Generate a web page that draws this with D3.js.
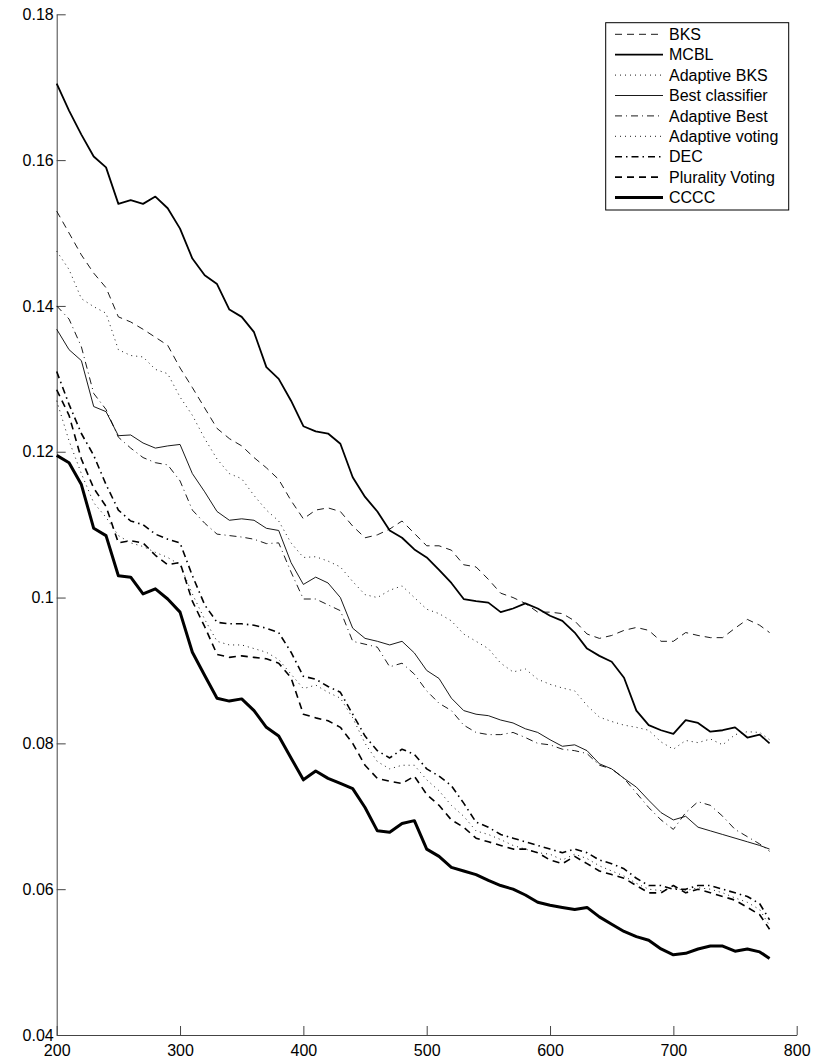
<!DOCTYPE html>
<html><head><meta charset="utf-8">
<script src="https://cdn.jsdelivr.net/npm/d3@7"></script>
<style>body{margin:0;background:#fff}text{font-family:"Liberation Sans",Arial,sans-serif}</style>
</head><body><svg id="c" width="816" height="1064"></svg>
<script>
const xValues = [200,210,220,230,240,250,260,270,280,290,300,310,320,330,340,350,360,370,380,390,400,410,420,430,440,450,460,470,480,490,500,510,520,530,540,550,560,570,580,590,600,610,620,630,640,650,660,670,680,690,700,710,720,730,740,750,760,770,778];
const bks = [0.1530,0.1500,0.1470,0.1445,0.1425,0.1385,0.1378,0.1368,0.1357,0.1346,0.1315,0.1288,0.1260,0.1232,0.1218,0.1208,0.1192,0.1178,0.1162,0.1133,0.1108,0.1120,0.1123,0.1118,0.1098,0.1082,0.1086,0.1094,0.1105,0.1088,0.1071,0.1071,0.1065,0.1045,0.1042,0.1025,0.1006,0.1000,0.0992,0.0980,0.0980,0.0978,0.0968,0.0950,0.0944,0.0948,0.0955,0.0959,0.0955,0.0940,0.0940,0.0952,0.0948,0.0945,0.0945,0.0958,0.0970,0.0962,0.0952];
const mcbl = [0.1705,0.1668,0.1635,0.1605,0.1590,0.1540,0.1545,0.1540,0.1550,0.1534,0.1506,0.1465,0.1442,0.1430,0.1395,0.1385,0.1364,0.1316,0.1300,0.1270,0.1235,0.1228,0.1225,0.1211,0.1165,0.1138,0.1118,0.1092,0.1082,0.1066,0.1055,0.1038,0.1020,0.0998,0.0995,0.0993,0.0980,0.0985,0.0992,0.0985,0.0975,0.0968,0.0952,0.0930,0.0920,0.0912,0.0890,0.0845,0.0825,0.0818,0.0813,0.0832,0.0828,0.0816,0.0818,0.0822,0.0808,0.0812,0.0800];
const adaptiveBks = [0.1475,0.1450,0.1410,0.1399,0.1390,0.1340,0.1332,0.1330,0.1313,0.1307,0.1275,0.1250,0.1218,0.1190,0.1170,0.1163,0.1140,0.1120,0.1105,0.1075,0.1055,0.1056,0.1050,0.1042,0.1022,0.1004,0.1000,0.1010,0.1016,0.1000,0.0984,0.0978,0.0968,0.0950,0.0940,0.0930,0.0910,0.0898,0.0902,0.0888,0.0881,0.0876,0.0872,0.0852,0.0836,0.0830,0.0825,0.0822,0.0818,0.0802,0.0792,0.0804,0.0801,0.0806,0.0798,0.0812,0.0816,0.0815,0.0805];
const bestClassifier = [0.1368,0.1340,0.1325,0.1262,0.1255,0.1222,0.1223,0.1212,0.1205,0.1208,0.1210,0.1170,0.1145,0.1118,0.1106,0.1108,0.1106,0.1095,0.1092,0.1048,0.1018,0.1028,0.1020,0.1000,0.0958,0.0944,0.0940,0.0935,0.0940,0.0924,0.0900,0.0889,0.0862,0.0845,0.0840,0.0838,0.0832,0.0828,0.0820,0.0815,0.0805,0.0796,0.0798,0.0790,0.0772,0.0765,0.0752,0.0740,0.0722,0.0705,0.0695,0.0700,0.0685,0.0680,0.0675,0.0670,0.0665,0.0660,0.0655];
const adaptiveBest = [0.1400,0.1382,0.1344,0.1280,0.1258,0.1220,0.1205,0.1192,0.1185,0.1182,0.1160,0.1120,0.1102,0.1087,0.1085,0.1083,0.1080,0.1074,0.1075,0.1035,0.0998,0.0998,0.0990,0.0982,0.0940,0.0936,0.0932,0.0905,0.0910,0.0895,0.0872,0.0855,0.0845,0.0825,0.0815,0.0812,0.0812,0.0815,0.0808,0.0800,0.0798,0.0792,0.0790,0.0786,0.0770,0.0765,0.0752,0.0732,0.0712,0.0695,0.0682,0.0705,0.0720,0.0715,0.0700,0.0682,0.0672,0.0662,0.0652];
const adaptiveVoting = [0.1270,0.1215,0.1170,0.1130,0.1110,0.1085,0.1075,0.1070,0.1062,0.1055,0.1045,0.1005,0.0970,0.0940,0.0935,0.0935,0.0930,0.0925,0.0915,0.0895,0.0875,0.0880,0.0870,0.0862,0.0835,0.0800,0.0775,0.0765,0.0770,0.0770,0.0750,0.0735,0.0715,0.0700,0.0680,0.0675,0.0668,0.0660,0.0655,0.0650,0.0648,0.0640,0.0648,0.0642,0.0632,0.0625,0.0618,0.0608,0.0600,0.0598,0.0602,0.0598,0.0602,0.0600,0.0595,0.0588,0.0582,0.0572,0.0550];
const dec = [0.1310,0.1265,0.1225,0.1195,0.1155,0.1120,0.1105,0.1100,0.1087,0.1080,0.1075,0.1030,0.0990,0.0966,0.0964,0.0964,0.0962,0.0958,0.0952,0.0925,0.0892,0.0888,0.0878,0.0870,0.0840,0.0810,0.0790,0.0780,0.0792,0.0785,0.0765,0.0755,0.0742,0.0718,0.0692,0.0685,0.0675,0.0670,0.0665,0.0660,0.0655,0.0650,0.0655,0.0650,0.0640,0.0635,0.0628,0.0615,0.0605,0.0605,0.0600,0.0600,0.0605,0.0605,0.0600,0.0595,0.0590,0.0580,0.0558];
const pluralityVoting = [0.1285,0.1250,0.1190,0.1150,0.1125,0.1075,0.1078,0.1075,0.1058,0.1045,0.1048,0.0995,0.0960,0.0922,0.0918,0.0920,0.0918,0.0916,0.0910,0.0890,0.0840,0.0835,0.0831,0.0822,0.0800,0.0770,0.0752,0.0748,0.0745,0.0755,0.0730,0.0715,0.0695,0.0685,0.0670,0.0665,0.0660,0.0655,0.0655,0.0650,0.0640,0.0635,0.0645,0.0635,0.0625,0.0620,0.0615,0.0605,0.0595,0.0595,0.0605,0.0595,0.0600,0.0595,0.0590,0.0585,0.0575,0.0565,0.0545];
const cccc = [0.1195,0.1185,0.1155,0.1095,0.1085,0.1030,0.1028,0.1005,0.1012,0.0998,0.0980,0.0925,0.0893,0.0862,0.0858,0.0861,0.0845,0.0822,0.0810,0.0780,0.0750,0.0762,0.0752,0.0745,0.0738,0.0712,0.0680,0.0678,0.0690,0.0694,0.0655,0.0645,0.0630,0.0625,0.0620,0.0612,0.0605,0.0600,0.0592,0.0582,0.0578,0.0575,0.0572,0.0575,0.0562,0.0552,0.0542,0.0535,0.0530,0.0518,0.0510,0.0512,0.0518,0.0522,0.0522,0.0515,0.0518,0.0514,0.0505];
const seriesNames = ["BKS","MCBL","Adaptive BKS","Best classifier","Adaptive Best","Adaptive voting","DEC","Plurality Voting","CCCC"];
const xTicks = [200,300,400,500,600,700,800];
const yTicks = [0.04,0.06,0.08,0.1,0.12,0.14,0.16,0.18];

const seriesData = [bks,mcbl,adaptiveBks,bestClassifier,adaptiveBest,adaptiveVoting,dec,pluralityVoting,cccc];
const styles = [
  {w:0.9, dash:"7,5"},
  {w:1.8, dash:null},
  {w:0.9, dash:"1,4"},
  {w:0.9, dash:null},
  {w:0.9, dash:"7,4,1,4"},
  {w:0.9, dash:"1,4"},
  {w:1.6, dash:"7,4,1.5,4"},
  {w:1.6, dash:"7,5"},
  {w:3, dash:null}
];

const svg = d3.select("#c");
const x = d3.scaleLinear().domain([200,800]).range([56.7,796.7]);
const y = d3.scaleLinear().domain([0.04,0.18]).range([1035,14.3]);

const axisColor = "#444";
const gx = svg.append("g").attr("transform","translate(0,1035)")
  .call(d3.axisBottom(x).tickValues(xTicks).tickSizeInner(-9).tickSizeOuter(0).tickPadding(10).tickFormat(d3.format("d")));
const gy = svg.append("g").attr("transform","translate(56.7,0)")
  .call(d3.axisLeft(y).tickValues(yTicks).tickSizeInner(-9).tickSizeOuter(0).tickPadding(4).tickFormat(d=>String(+d.toFixed(2))));
[gx,gy].forEach(g=>{
  g.select(".domain").attr("stroke",axisColor);
  g.selectAll(".tick line").attr("stroke",axisColor);
  g.selectAll(".tick text").attr("fill","#000").style("font-size","16px").style("font-family","'Liberation Sans',Arial,sans-serif");
});
gx.selectAll(".tick text").attr("y",10).attr("dy","0.71em");
gy.selectAll(".tick text").attr("x",-3);

const line = d3.line().x((d,i)=>x(xValues[i])).y(d=>y(d));
seriesData.forEach((s,k)=>{
  const p = svg.append("path").datum(s).attr("d",line).attr("fill","none")
    .attr("stroke","#000").attr("stroke-width",styles[k].w).attr("stroke-linejoin","round");
  if(styles[k].dash) p.attr("stroke-dasharray",styles[k].dash);
});

// legend
const lg = svg.append("g");
lg.append("rect").attr("x",605.7).attr("y",22.7).attr("width",183).attr("height",187.3)
  .attr("fill","#fff").attr("stroke","#000").attr("stroke-width",1);
seriesNames.forEach((n,k)=>{
  const cy = 34.3 + k*20.4;
  const l = lg.append("line").attr("x1",615).attr("x2",663).attr("y1",cy).attr("y2",cy)
    .attr("stroke","#000").attr("stroke-width",styles[k].w);
  if(styles[k].dash) l.attr("stroke-dasharray",styles[k].dash);
  lg.append("text").attr("x",669).attr("y",cy).attr("dy","0.35em").style("font-size","16px").text(n);
});
</script></body></html>
